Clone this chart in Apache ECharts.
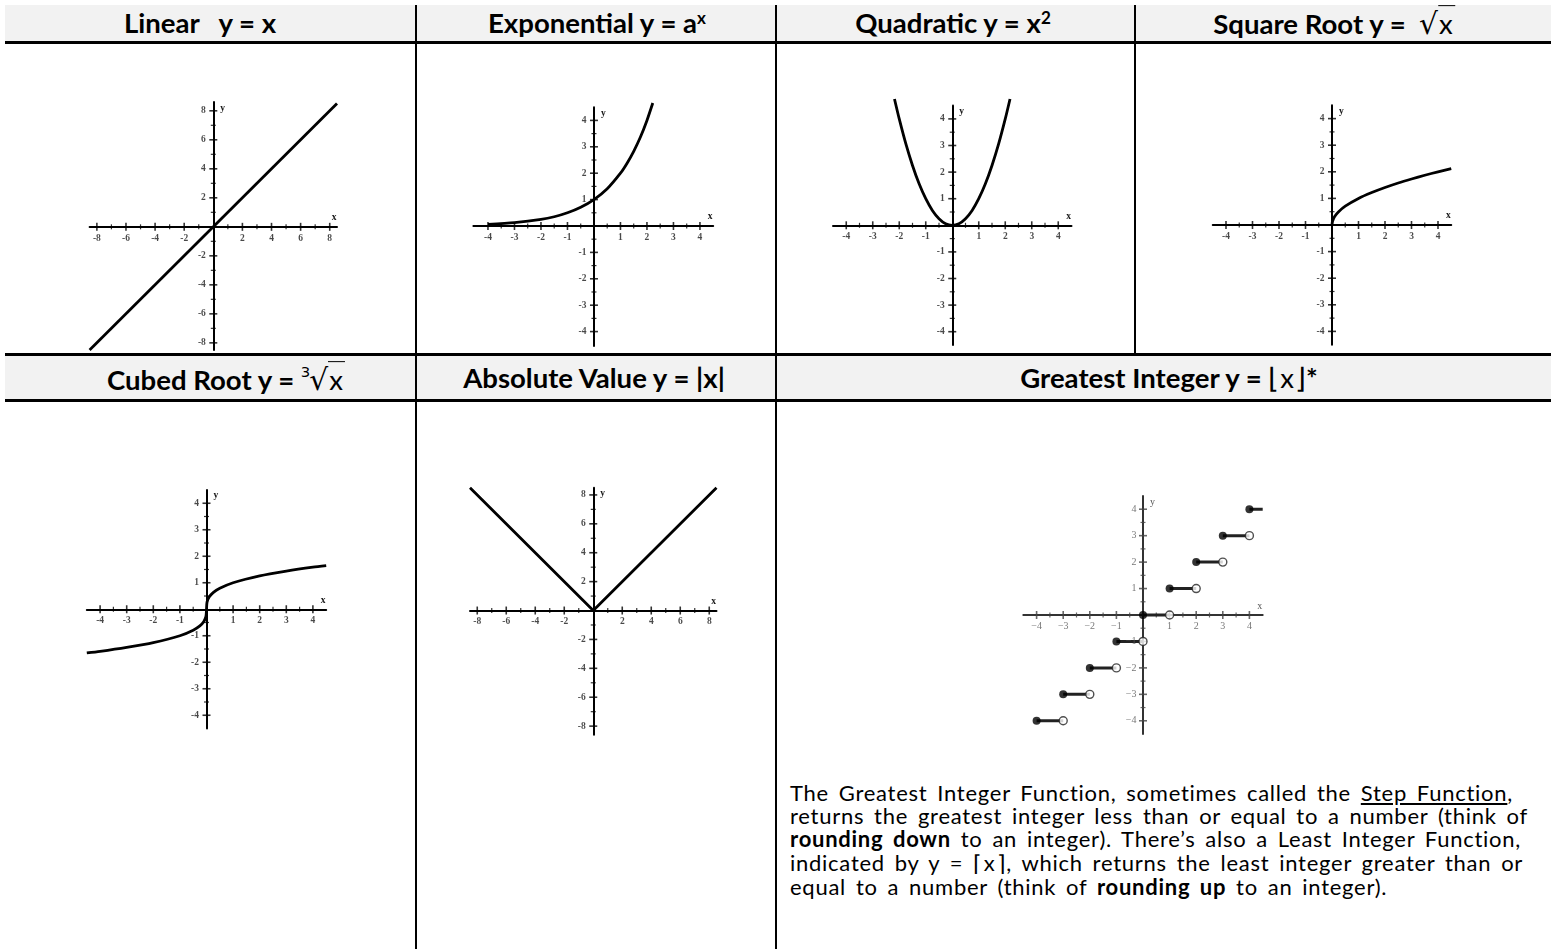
<!DOCTYPE html>
<html>
<head>
<meta charset="utf-8">
<title>Parent Functions</title>
<script src="https://cdn.jsdelivr.net/npm/echarts@6/dist/echarts.min.js"></script>
<style>
  html, body { margin: 0; padding: 0; background: #fff; }
  #page { position: relative; width: 1551px; height: 949px; overflow: hidden;
          font-family: Lato, "Open Sans", sans-serif; color: #000; }
  .band { position: absolute; background: #f2f2f2; }
  .hline { position: absolute; background: #000; height: 3px; }
  .vline { position: absolute; background: #000; width: 2px; }
  .head { position: absolute; white-space: nowrap; font-weight: 700; font-size: 18px;
          line-height: 1; transform: translate(-50%, -50%); }
  .head sup { font-size: 0.62em; vertical-align: 0.55em; line-height: 0; }
  .m { font-weight: 400; font-family: "DejaVu Sans", sans-serif; font-size: 1.08em; }
  .ov { border-top: 1px solid #000; padding: 1px 2px 0 1px; font-family: Lato, sans-serif; font-weight: 400; }
  .idx { font-size: 0.5em; vertical-align: 0.85em; line-height: 0; margin-right: -1px; }
  .br { font-weight: 300; font-family: "DejaVu Sans", sans-serif; }
  .xi { font-weight: 400; padding: 0 1px; }
  .para { position: absolute; left: 790px; white-space: nowrap; font-size: 22px; line-height: 1;
          transform: translateY(-50%); }
  .para u { text-underline-offset: 2px; }
  #chart { position: absolute; left: 0; top: 0; width: 1551px; height: 949px; filter: blur(0.4px); }
</style>
</head>
<body>
<div id="page">
  <!-- table frame -->
  <div class="band" style="left:5px;top:5px;width:1546px;height:36px"></div>
  <div class="hline" style="left:5px;top:41px;width:1546px"></div>
  <div class="hline" style="left:5px;top:353px;width:1546px"></div>
  <div class="band" style="left:5px;top:356px;width:1546px;height:43px"></div>
  <div class="hline" style="left:5px;top:399px;width:1546px"></div>
  <div class="vline" style="left:415px;top:5px;height:348px"></div>
  <div class="vline" style="left:1134px;top:5px;height:348px"></div>
  <div class="vline" style="left:775px;top:5px;height:944px"></div>
  <div class="vline" style="left:415px;top:356px;height:593px"></div>

  <!-- column headings -->
  <div class="head" style="left:200px;top:23px">Linear&nbsp;&nbsp; y = x</div>
  <div class="head" id="refHead" style="left:597px;top:23px">Exponential y = a<sup>x</sup></div>
  <div class="head" style="left:953px;top:23px">Quadratic y = x<sup>2</sup></div>
  <div class="head" style="left:1334px;top:24px">Square Root y = &nbsp;<span class="m">√</span><span class="ov">x</span></div>
  <div class="head" style="left:226px;top:380px">Cubed Root y = <span class="m"><span class="idx">3</span>√</span><span class="ov">x</span></div>
  <div class="head" style="left:594px;top:378px">Absolute Value y = |x|</div>
  <div class="head" style="left:1169px;top:378px">Greatest Integer y = <span class="br">⌊</span><span class="xi">x</span><span class="br">⌋</span>*</div>

  <!-- note on the step function -->
  <div class="para" style="top:793px">The Greatest Integer Function, sometimes called the <u>Step Function</u>,</div>
  <div class="para" id="refPara" style="top:816px">returns the greatest integer less than or equal to a number (think of</div>
  <div class="para" style="top:839px"><b>rounding down</b> to an integer). There’s also a Least Integer Function,</div>
  <div class="para" style="top:863px">indicated by y = <span class="br">⌈</span><span class="xi">x</span><span class="br">⌉</span>, which returns the least integer greater than or</div>
  <div class="para" style="top:887px">equal to a number (think of <b>rounding up</b> to an integer).</div>

  <div id="chart"></div>
</div>

<script>
// ---- data ----
const evenTicks = [-8, -6, -4, -2, 2, 4, 6, 8];
const oddTicks = [-7, -5, -3, -1, 1, 3, 5, 7];
const unitTicks = [-4, -3, -2, -1, 1, 2, 3, 4];
const halfTicks = [-3.5, -2.5, -1.5, -0.5, 0.5, 1.5, 2.5, 3.5];

const linearPts = [[-8.5, -8.5], [8.5, 8.5]];
const expPts = [[-4, 0.06], [-3, 0.13], [-2, 0.25], [-1.5, 0.35], [-1, 0.5], [-0.5, 0.71], [0, 1],
                [0.5, 1.41], [1, 2], [1.25, 2.38], [1.5, 2.83], [1.75, 3.36], [2, 4], [2.22, 4.66]];
const quadPts = [[-2.18, 4.75], [-2, 4], [-1.75, 3.06], [-1.5, 2.25], [-1.25, 1.56], [-1, 1],
                 [-0.75, 0.56], [-0.5, 0.25], [-0.25, 0.06], [0, 0], [0.25, 0.06], [0.5, 0.25],
                 [0.75, 0.56], [1, 1], [1.25, 1.56], [1.5, 2.25], [1.75, 3.06], [2, 4], [2.18, 4.75]];
const sqrtPts = [[0, 0], [0.02, 0.14], [0.1, 0.32], [0.25, 0.5], [0.5, 0.71], [1, 1], [1.5, 1.22],
                 [2, 1.41], [2.5, 1.58], [3, 1.73], [3.5, 1.87], [4, 2], [4.5, 2.12]];
const cbrtPts = [[-4.5, -1.65], [-4, -1.59], [-3, -1.44], [-2, -1.26], [-1, -1], [-0.5, -0.79],
                 [-0.25, -0.63], [-0.1, -0.46], [-0.02, -0.27], [0, 0], [0.02, 0.27], [0.1, 0.46],
                 [0.25, 0.63], [0.5, 0.79], [1, 1], [2, 1.26], [3, 1.44], [4, 1.59], [4.5, 1.65]];
const absPts = [[-8.5, 8.5], [0, 0], [8.5, 8.5]];
const stepStarts = [-4, -3, -2, -1, 0, 1, 2, 3, 4];
const stepEnds = [-3, -2, -1, 0, 1, 2, 3, 4, 4.5];

// ---- chart building ----
const grids = [], xAxes = [], yAxes = [], series = [];

const boldFont = { fontFamily: 'Liberation Serif', fontWeight: 'bold', fontSize: 9.5, color: '#1a1a1a' };
const lightFont = { fontFamily: 'Liberation Serif', fontWeight: 'normal', fontSize: 10, color: '#555' };
const minusFmt = v => (v < 0 ? '\u2212' + (-v) : String(v));
const plainFmt = v => String(v);

function addPlot(p) {
  const gi = grids.length;
  const font = p.light ? lightFont : boldFont;
  const fmt = p.light ? minusFmt : plainFmt;
  const axisColor = p.light ? '#333' : '#000';
  grids.push({ left: p.box[0], top: p.box[1], width: p.box[2], height: p.box[3] });
  xAxes.push({
    type: 'value', gridIndex: gi, min: p.x[0], max: p.x[1],
    axisLine: { onZero: true, lineStyle: { color: axisColor, width: 2 } },
    axisTick: { show: false }, splitLine: { show: false }, axisLabel: { show: false },
    name: 'x', nameLocation: 'end', nameGap: -3,
    nameTextStyle: Object.assign({ align: 'center', verticalAlign: 'bottom', padding: [0, 0, 4, 0] }, font)
  });
  yAxes.push({
    type: 'value', gridIndex: gi, min: p.y[0], max: p.y[1],
    axisLine: { onZero: true, lineStyle: { color: axisColor, width: 2 } },
    axisTick: { show: false }, splitLine: { show: false }, axisLabel: { show: false },
    name: 'y', nameLocation: 'end', nameGap: -1,
    nameTextStyle: Object.assign({ align: 'left', verticalAlign: 'top', padding: [0, 0, 0, 7] }, font)
  });
  const tickColor = p.light ? '#444' : '#000';
  const tick = (data, size) => series.push({
    type: 'scatter', xAxisIndex: gi, yAxisIndex: gi, silent: true, symbol: 'rect',
    symbolSize: size, itemStyle: { color: tickColor }, data: data, z: 3
  });
  tick(p.xMajor.map(v => [v, 0]), [1.6, 8]);
  tick(p.xMinor.map(v => [v, 0]), [1.2, 5]);
  tick(p.yMajor.map(v => [0, v]), [8, 1.6]);
  tick(p.yMinor.map(v => [0, v]), [5, 1.2]);
  // tick labels sit beside the crossing axes
  const labels = (data, pos, dist, idx) => series.push({
    type: 'scatter', xAxisIndex: gi, yAxisIndex: gi, silent: true, symbol: 'circle',
    symbolSize: 1, itemStyle: { color: 'rgba(0,0,0,0)' }, data: data, z: 5,
    label: Object.assign({ show: true, position: pos, distance: dist,
                           formatter: q => fmt(q.value[idx]) }, font)
  });
  labels(p.xMajor.map(v => [v, 0]), 'bottom', p.xDist, 0);
  labels(p.yMajor.map(v => [0, v]), 'left', p.yDist, 1);
  (p.curves || []).forEach(c => series.push({
    type: 'line', xAxisIndex: gi, yAxisIndex: gi, data: c, showSymbol: false, silent: true,
    smooth: c.length > 3 ? 0.25 : false, clip: false, z: 4,
    lineStyle: { color: '#000', width: 2.8 }
  }));
  return gi;
}

addPlot({ box: [89.6, 102.1, 247.4, 248], x: [-8.5, 8.5], y: [-8.5, 8.6],
          xMajor: evenTicks, xMinor: oddTicks, yMajor: evenTicks, yMinor: oddTicks,
          xDist: 6, yDist: 7, curves: [linearPts] });
addPlot({ box: [473.4, 107.2, 239.8, 238.9], x: [-4.55, 4.5], y: [-4.55, 4.5],
          xMajor: unitTicks, xMinor: halfTicks, yMajor: unitTicks, yMinor: halfTicks,
          xDist: 6, yDist: 7, curves: [expPts] });
addPlot({ box: [833, 105.6, 238.5, 239.4], x: [-4.5, 4.5], y: [-4.5, 4.5],
          xMajor: unitTicks, xMinor: halfTicks, yMajor: unitTicks, yMinor: halfTicks,
          xDist: 6, yDist: 7, curves: [quadPts] });
addPlot({ box: [1212.75, 105.3, 238.5, 239.4], x: [-4.5, 4.5], y: [-4.5, 4.5],
          xMajor: unitTicks, xMinor: halfTicks, yMajor: unitTicks, yMinor: halfTicks,
          xDist: 6, yDist: 7, curves: [sqrtPts] });
addPlot({ box: [86.8, 490, 239.4, 238.5], x: [-4.5, 4.5], y: [-4.5, 4.5],
          xMajor: unitTicks, xMinor: halfTicks, yMajor: unitTicks, yMinor: halfTicks,
          xDist: 6, yDist: 7, curves: [cbrtPts] });
addPlot({ box: [470, 487.7, 246.5, 247.1], x: [-8.5, 8.5], y: [-8.6, 8.5],
          xMajor: evenTicks, xMinor: oddTicks, yMajor: evenTicks, yMinor: oddTicks,
          xDist: 6, yDist: 7, curves: [absPts] });

// greatest integer (step) plot
const gFloor = addPlot({ box: [1023.3, 496, 239.4, 238], x: [-4.5, 4.5], y: [-4.5, 4.5], light: true,
          xMajor: unitTicks, xMinor: halfTicks, yMajor: unitTicks, yMinor: halfTicks,
          xDist: 6, yDist: 6 });
stepStarts.forEach((s, i) => series.push({
  type: 'line', xAxisIndex: gFloor, yAxisIndex: gFloor, showSymbol: false, silent: true, z: 4,
  data: [[s, s], [stepEnds[i], s]], lineStyle: { color: '#222', width: 3 }
}));
series.push({
  type: 'scatter', xAxisIndex: gFloor, yAxisIndex: gFloor, silent: true, z: 6,
  symbol: 'circle', symbolSize: 8,
  itemStyle: { color: '#fff', borderColor: '#222', borderWidth: 1.4 },
  data: stepStarts.slice(0, -1).map((s, i) => [stepEnds[i], s])
});
series.push({
  type: 'scatter', xAxisIndex: gFloor, yAxisIndex: gFloor, silent: true, z: 7,
  symbol: 'circle', symbolSize: 8, itemStyle: { color: '#000' },
  data: stepStarts.map(s => [s, s])
});

const chart = echarts.init(document.getElementById('chart'), null, { renderer: 'canvas' });
chart.setOption({ animation: false, grid: grids, xAxis: xAxes, yAxis: yAxes, series: series });

// headings: scale the font so a reference heading spans its measured width
function fitSize(sel, refId, target) {
  const ref = document.getElementById(refId);
  const base = parseFloat(getComputedStyle(ref).fontSize);
  const size = base * target / ref.getBoundingClientRect().width;
  document.querySelectorAll(sel).forEach(el => { el.style.fontSize = size + 'px'; });
}
// note text: keep the font size, open up the spacing a little so the line spans its width
function fitSpacing(sel, refId, target) {
  const ref = document.getElementById(refId);
  const txt = ref.textContent;
  const gaps = (txt.match(/ /g) || []).length;
  const extra = target - ref.getBoundingClientRect().width;
  const ls = Math.max(0, extra * 0.55 / txt.length);
  const ws = Math.max(0, extra * 0.45 / Math.max(1, gaps));
  document.querySelectorAll(sel).forEach(el => {
    el.style.letterSpacing = ls + 'px';
    el.style.wordSpacing = ws + 'px';
  });
}
fitSize('.head', 'refHead', 218);
fitSpacing('.para', 'refPara', 738);
</script>
</body>
</html>
